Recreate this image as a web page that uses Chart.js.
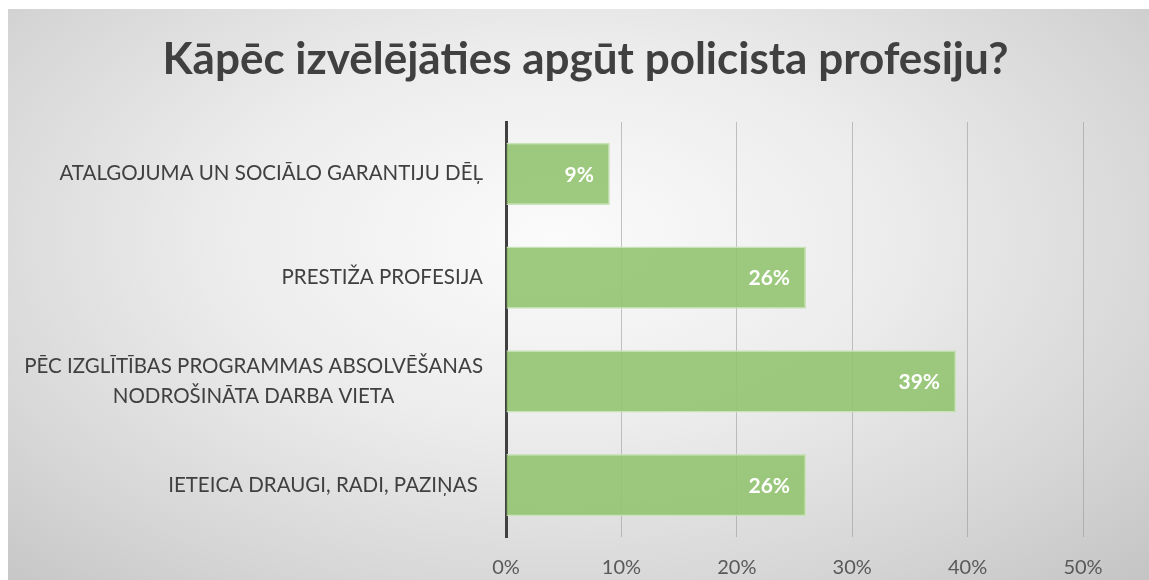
<!DOCTYPE html>
<html>
<head>
<meta charset="utf-8">
<script src="https://cdn.jsdelivr.net/npm/chart.js@4/dist/chart.umd.min.js"></script>
<style>
  html, body { margin: 0; padding: 0; background: #ffffff; }
  #wrap { position: relative; width: 1149px; height: 580px; overflow: hidden; }
  #bg { position: absolute; left: 8px; top: 9px; width: 1141px; height: 571px;
        background: radial-gradient(ellipse farthest-corner at 48% 40%, #fbfbfb 0%, #ececec 40%, #d6d6d6 75%, #c4c4c4 100%); }
  canvas { position: absolute; left: 0; top: 0; }
</style>
</head>
<body>
<div id="wrap">
  <div id="bg"></div>
  <canvas id="c" width="1149" height="580"></canvas>
</div>
<script>
const titleText = "Kāpēc izvēlējāties apgūt policista profesiju?";
const categories = [
  "ATALGOJUMA UN SOCIĀLO GARANTIJU DĒĻ",
  "PRESTIŽA PROFESIJA",
  ["PĒC IZGLĪTĪBAS PROGRAMMAS ABSOLVĒŠANAS", "NODROŠINĀTA DARBA VIETA"],
  "IETEICA DRAUGI, RADI, PAZIŅAS "
];
const values = [9, 26, 39, 26];
const tickMax = 50;
const tickStep = 10;

const FONT = "Lato, 'Open Sans', sans-serif";

const titleDraw = {
  id: 'titleDraw',
  afterDraw(chart) {
    const ctx = chart.ctx;
    ctx.save();
    ctx.font = "bold 44px " + FONT;
    ctx.fillStyle = "#404040";
    ctx.textAlign = "center";
    ctx.textBaseline = "alphabetic";
    ctx.fillText(titleText, chart.width / 2 + 11, 74);
    ctx.restore();
  }
};

const categoryLabels = {
  id: 'categoryLabels',
  afterDraw(chart) {
    const ctx = chart.ctx;
    const ys = chart.scales.y;
    const right = chart.chartArea.left - 23;
    ctx.save();
    ctx.font = "20.5px " + FONT;
    ctx.fillStyle = "#404040";
    ctx.textBaseline = "middle";
    categories.forEach((lab, i) => {
      const y = ys.getPixelForValue(i);
      const lines = Array.isArray(lab) ? lab : [lab];
      if (lines.length === 1) {
        ctx.textAlign = "right";
        ctx.fillText(lines[0], right, y);
      } else {
        const maxW = Math.max(...lines.map(l => ctx.measureText(l).width));
        const lh = 30;
        ctx.textAlign = "center";
        lines.forEach((l, k) => {
          ctx.fillText(l, right - maxW / 2, y + (k - (lines.length - 1) / 2) * lh);
        });
      }
    });
    ctx.restore();
  }
};

const valueLabels = {
  id: 'valueLabels',
  afterDatasetsDraw(chart) {
    const ctx = chart.ctx;
    const meta = chart.getDatasetMeta(0);
    ctx.save();
    ctx.font = "bold 21px " + FONT;
    ctx.fillStyle = "#ffffff";
    ctx.textAlign = "right";
    ctx.textBaseline = "middle";
    meta.data.forEach((bar, i) => {
      ctx.fillText(values[i] + "%", bar.x - 16, bar.y + 1);
    });
    ctx.restore();
  }
};

new Chart(document.getElementById('c'), {
  type: 'bar',
  data: {
    labels: categories,
    datasets: [{
      data: values,
      backgroundColor: 'rgba(146,196,112,0.9)',
      borderColor: '#c9e3b8',
      borderWidth: 1.5,
      categoryPercentage: 1,
      barPercentage: 0.6
    }]
  },
  options: {
    indexAxis: 'y',
    responsive: false,
    devicePixelRatio: 1,
    animation: false,
    layout: { padding: { left: 0, right: 66, top: 122, bottom: 0 } },
    plugins: {
      legend: { display: false },
      tooltip: { enabled: false },
      title: { display: false }
    },
    scales: {
      x: {
        min: 0,
        max: tickMax,
        ticks: {
          stepSize: tickStep,
          callback: v => v + '%',
          color: '#595959',
          font: { family: FONT, size: 20 },
          padding: 19
        },
        grid: { color: 'rgba(150,150,150,0.55)', lineWidth: 1, drawTicks: false },
        border: { display: false },
        afterFit: s => { s.height = 43; }
      },
      y: {
        offset: true,
        ticks: { display: false },
        grid: { display: false },
        border: { display: true, color: '#404040', width: 3 },
        afterFit: s => { s.width = 506; }
      }
    }
  },
  plugins: [titleDraw, categoryLabels, valueLabels]
});
</script>
</body>
</html>
